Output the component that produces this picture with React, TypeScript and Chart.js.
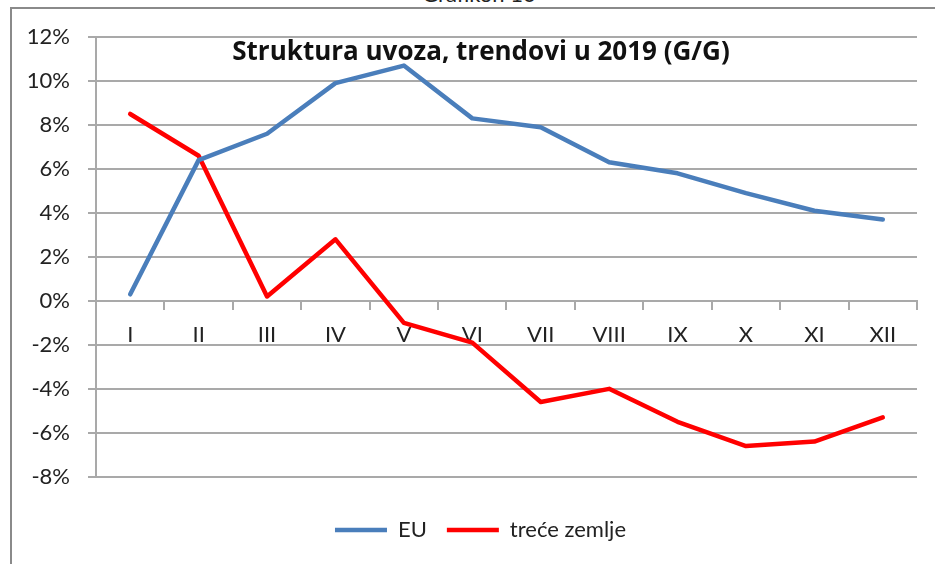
import React, { useEffect, useRef } from "react";
import { Chart, registerables } from "chart.js";

Chart.register(...registerables);

const categories = ["I", "II", "III", "IV", "V", "VI", "VII", "VIII", "IX", "X", "XI", "XII"];
const euValues = [0.3, 6.4, 7.6, 9.9, 10.7, 8.3, 7.9, 6.3, 5.8, 4.9, 4.1, 3.7];
const thirdValues = [8.5, 6.6, 0.2, 2.8, -1.0, -1.9, -4.6, -4.0, -5.5, -6.6, -6.4, -5.3];
const seriesNames = ["EU", "treće zemlje"];
const yMin = -8;
const yMax = 12;
const yStep = 2;
const chartTitle = "Struktura uvoza, trendovi u 2019 (G/G)";
const figureCaption = "Grafikon 10";

const FONT = "Lato, 'Open Sans', sans-serif";
const TITLE_FONT = "'Open Sans', Lato, sans-serif";
const GRID = "#a9a9a9";

export default function App() {
  const ref = useRef<HTMLCanvasElement | null>(null);

  useEffect(() => {
    if (!ref.current) return;
    const chart = new Chart(ref.current, {
      type: "line",
      data: {
        labels: categories,
        datasets: [
          {
            label: seriesNames[0],
            data: euValues,
            borderColor: "#4a7ebb",
            backgroundColor: "#4a7ebb",
            borderWidth: 4.5,
            pointRadius: 0,
            tension: 0,
            borderJoinStyle: "round",
            borderCapStyle: "round",
            pointStyle: "line",
          },
          {
            label: seriesNames[1],
            data: thirdValues,
            borderColor: "#ff0000",
            backgroundColor: "#ff0000",
            borderWidth: 4.5,
            pointRadius: 0,
            tension: 0,
            borderJoinStyle: "round",
            borderCapStyle: "round",
            pointStyle: "line",
          },
        ],
      },
      options: {
        responsive: false,
        animation: false,
        devicePixelRatio: 1,
        layout: { padding: { left: 27, right: 1, top: 37, bottom: 13 } },
        plugins: {
          tooltip: { enabled: false },
          title: { display: false },
          legend: {
            display: true,
            position: "bottom",
            title: { display: true, text: "", font: { size: 1 }, padding: { top: 21, bottom: 0 } },
            labels: {
              usePointStyle: true,
              pointStyleWidth: 52,
              boxHeight: 5,
              padding: 20,
              color: "#222",
              font: { family: FONT, size: 22 },
            },
          },
        },
        scales: {
          x: {
            type: "category",
            offset: true,
            position: { y: 0 } as any,
            grid: {
              offset: true,
              drawOnChartArea: false,
              drawTicks: true,
              tickLength: 8,
              color: GRID,
              lineWidth: 2,
            },
            border: { display: true, color: GRID, width: 2 },
            ticks: {
              color: "#222",
              padding: 13,
              maxRotation: 0,
              autoSkip: false,
              font: { family: FONT, size: 22 },
            },
          },
          y: {
            min: yMin,
            max: yMax,
            afterFit: (scale: any) => {
              scale.width = 69;
            },
            grid: {
              color: GRID,
              lineWidth: 2,
              drawTicks: true,
              tickLength: 8,
            },
            border: { display: true, color: GRID, width: 2 },
            ticks: {
              stepSize: yStep,
              padding: 18,
              color: "#222",
              font: { family: FONT, size: 22 },
              callback: (v: any) => `${v}%`,
            },
          },
          yRight: {
            type: "linear",
            position: "right",
            display: true,
            grid: { display: false, drawTicks: false },
            border: { display: false },
            ticks: { display: false },
            afterFit: (scale: any) => {
              scale.width = 17;
            },
          },
        },
      },
    });
    return () => chart.destroy();
  }, []);

  return (
    <div
      style={{
        position: "absolute",
        left: 0,
        top: 0,
        width: 935,
        height: 564,
        overflow: "hidden",
        background: "#fff",
      }}
    >
      <div
        style={{
          position: "absolute",
          left: 0,
          width: 958,
          top: -19,
          textAlign: "center",
          fontFamily: FONT,
          fontSize: 22,
          lineHeight: "26px",
          color: "#222",
          whiteSpace: "nowrap",
        }}
      >
        {figureCaption}
      </div>
      <div
        style={{
          position: "absolute",
          left: 10,
          top: 7,
          width: 940,
          height: 600,
          borderTop: "2px solid #8a8a8a",
          borderLeft: "2px solid #8a8a8a",
          boxSizing: "border-box",
        }}
      />
      <canvas
        ref={ref}
        width={935}
        height={564}
        style={{ position: "absolute", left: 0, top: 0, width: 935, height: 564 }}
      />
      <div
        style={{
          position: "absolute",
          left: 0,
          width: 962,
          top: 33,
          textAlign: "center",
          fontFamily: TITLE_FONT,
          fontWeight: 700,
          fontSize: 26,
          lineHeight: "34px",
          color: "#111",
          whiteSpace: "nowrap",
        }}
      >
        {chartTitle}
      </div>
    </div>
  );
}
